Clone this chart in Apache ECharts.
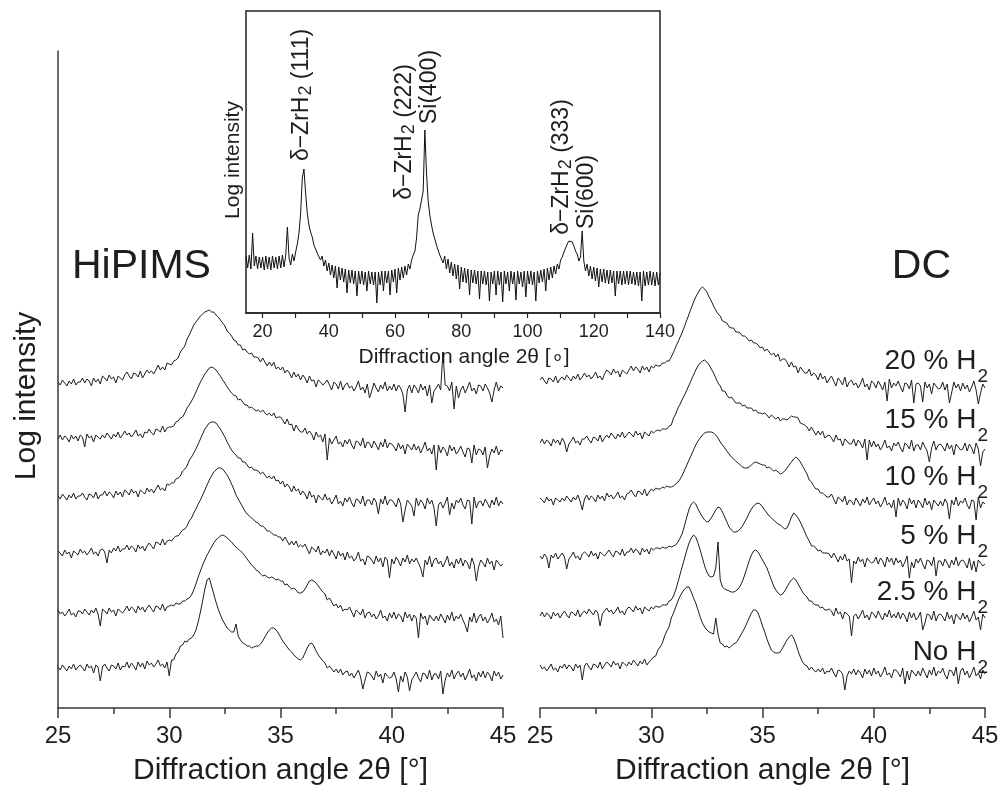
<!DOCTYPE html>
<html>
<head>
<meta charset="utf-8">
<script src="https://cdn.jsdelivr.net/npm/echarts@6/dist/echarts.min.js"></script>
<style>
html, body { margin: 0; background: #fff; }
#chart { width: 1005px; height: 798px; }
</style>
</head>
<body>
<div id="chart"></div>
<script>
// scans sampled every 0.1 deg from 25 to 45 deg; log intensity in arbitrary units, each curve already offset
var angleStart = 25, angleStep = 0.1;
var mainTickLabels = [25, 30, 35, 40, 45];

// HiPIMS, one row per degree
var hipims20 = [
  326,323,328,325,322,327,324,329,323,326, 326,330,325,329,327,322,330,326,329,324,
  332,330,327,333,329,331,325,332,330,328, 333,336,332,329,335,334,331,337,330,334,
  338,335,337,334,338,343,338,341,338,345, 344,343,347,348,350,356,359,362,369,373,
  378,383,386,389,392,394,396,397,398,396, 396,393,391,388,385,382,377,375,372,368,
  367,363,363,358,359,356,354,355,351,351, 350,346,350,346,342,346,342,346,339,341,
  338,341,335,338,335,330,336,331,334,328, 333,330,325,332,327,328,321,328,326,323,
  325,328,323,318,326,324,319,327,318,323, 325,320,322,317,321,327,318,321,315,324,
  310,317,325,320,316,323,319,326,317,322, 318,324,317,323,320,314,296,318,323,315,
  323,320,315,324,318,322,312,323,305,317, 320,324,318,356,323,322,317,326,299,322,
  310,318,322,315,320,326,317,320,314,323, 322,317,324,320,315,306,318,326,317,322, 320];
var hipims15 = [
  269,273,268,272,270,266,273,269,272,267, 273,271,261,274,270,272,266,273,271,269,
  273,270,275,272,269,274,271,276,270,273, 277,273,275,271,274,278,272,274,270,276,
  275,279,275,273,279,278,276,282,276,280, 281,281,282,286,287,290,291,295,300,303,
  307,311,316,321,326,330,334,337,340,341, 340,338,335,332,328,325,321,318,315,313,
  312,308,309,306,303,303,300,301,299,297, 298,296,298,295,293,295,292,295,290,291,
  291,288,284,289,283,284,277,283,279,276, 276,280,274,277,274,268,276,271,273,266,
  274,248,270,264,268,272,264,266,261,268, 264,269,263,259,267,266,262,270,260,266,
  265,260,267,263,258,266,261,269,260,265, 264,261,257,265,259,263,254,264,261,258,
  264,258,262,255,260,266,257,260,254,263, 238,263,255,261,258,252,263,257,261,254,
  257,262,256,251,260,259,245,263,253,259, 258,253,261,240,252,259,255,262,253,258, 257];
var hipims10 = [
  212,209,214,211,208,213,210,215,209,212, 212,215,211,208,214,213,210,216,209,213,
  213,217,212,216,214,210,217,213,216,211, 218,216,213,219,215,217,211,218,216,214,
  220,216,219,215,219,223,218,220,217,224, 223,225,225,229,230,232,237,239,242,248,
  251,255,259,264,269,274,279,282,285,286, 286,285,282,279,275,271,266,262,258,255,
  253,250,250,246,246,243,240,241,238,238, 237,234,236,233,230,232,229,232,227,228,
  224,227,221,224,221,216,222,217,219,213, 217,214,209,217,211,213,205,213,210,208,
  214,208,210,204,208,213,204,207,202,210, 206,211,205,201,209,208,204,212,202,208,
  208,203,210,206,194,209,204,212,203,208, 208,205,201,210,204,186,198,208,205,202,
  192,210,202,208,205,199,210,204,208,200, 182,203,206,200,205,211,193,205,199,208,
  205,210,203,199,208,207,184,211,200,206, 207,202,209,205,200,208,203,211,202,207, 204];
var hipims5 = [
  157,155,152,158,154,156,150,157,155,153, 159,155,157,153,156,160,154,156,152,158,
  159,156,145,158,155,160,157,162,156,159, 159,163,158,162,160,156,163,159,162,157,
  162,165,162,159,166,165,163,169,163,167, 168,167,170,172,172,175,178,179,182,187,
  190,195,199,204,208,213,218,223,228,232, 236,238,240,240,239,236,233,229,224,219,
  213,209,205,201,197,194,192,190,188,186, 185,182,182,180,177,177,175,173,173,171,
  171,167,171,167,163,167,163,167,161,163, 161,164,159,154,161,159,156,162,153,157,
  155,159,152,158,154,149,157,152,155,148, 156,150,152,147,150,156,147,149,143,152,
  151,148,144,152,146,150,141,151,148,130, 149,144,151,147,142,150,146,153,144,149,
  146,150,145,140,131,148,143,152,141,148, 150,144,147,141,146,152,142,146,140,149,
  144,150,142,148,145,139,150,144,127,141, 148,145,141,150,144,147,138,148,145,142, 144];
var hipims2_5 = [
  98,94,96,92,95,99,93,95,91,97, 97,94,99,96,93,98,95,100,94,82,
  99,97,94,100,96,98,92,99,97,95, 98,102,97,101,99,95,102,98,101,96,
  100,103,99,96,102,101,98,104,97,101, 102,103,102,105,104,104,107,107,109,110,
  113,118,124,131,137,143,148,153,157,161, 165,168,170,172,173,172,170,168,166,163,
  161,159,157,155,152,149,146,143,141,138, 137,134,132,133,131,130,131,130,128,129,
  127,127,123,124,121,119,120,118,115,115, 116,119,123,127,128,127,125,122,119,116,
  114,108,110,106,102,104,100,103,97,99, 98,101,96,91,98,96,93,99,90,95,
  96,91,94,89,92,98,90,92,87,95, 90,96,89,94,92,86,96,90,94,87,
  93,90,70,95,89,92,83,93,90,87, 92,87,94,90,85,93,88,96,87,92,
  89,94,88,83,76,91,86,95,85,91, 94,87,91,85,89,95,86,89,83,92, 70];
var hipimsNo = [
  41,38,43,40,37,42,39,44,38,41, 43,40,37,44,40,42,35,43,41,27,
  41,44,40,37,43,42,39,45,38,42, 41,46,40,45,42,38,46,41,45,39,
  47,43,45,41,44,48,42,44,40,46, 32,48,48,54,56,62,63,67,66,69,
  70,73,78,86,96,107,119,128,130,122, 114,106,99,93,88,84,80,78,76,76,
  84,72,68,65,64,62,62,60,61,62, 62,64,67,71,75,78,80,80,78,75,
  71,67,64,61,58,56,53,51,49,48, 50,55,60,64,65,62,57,53,50,47,
  45,40,42,39,36,39,35,39,33,36, 37,32,35,30,34,38,31,19,28,36,
  35,32,28,37,31,34,25,35,32,30, 31,36,29,16,32,26,36,31,17,28,
  32,36,30,26,35,34,29,38,28,34, 34,29,37,14,28,35,31,38,29,34,
  37,31,35,28,33,39,30,33,27,36, 31,37,30,36,33,27,37,32,36,29, 33];

// DC
var dc20 = [
  328,331,327,324,330,329,326,332,325,329, 331,328,333,330,327,332,329,334,328,331,
  335,331,333,329,332,336,330,332,328,334, 338,336,333,339,335,337,331,338,336,334,
  338,342,337,341,339,335,342,338,341,336, 342,340,343,342,342,345,345,347,347,351,
  356,361,366,371,376,382,388,394,400,406, 411,415,419,421,419,416,411,407,402,398,
  394,392,387,386,385,381,380,380,376,376, 375,372,372,370,367,368,365,365,363,360,
  361,357,359,356,353,355,351,354,347,349, 349,346,341,346,341,342,335,341,338,335,
  335,339,332,335,333,328,335,329,332,325, 329,332,327,322,330,327,323,331,321,326,
  328,323,325,320,324,330,321,324,318,327, 325,320,327,323,318,326,307,329,320,325,
  322,327,321,316,325,324,319,328,305,324, 325,322,306,326,320,324,314,325,322,319,
  320,326,318,324,305,315,326,320,324,317, 325,319,323,316,321,327,318,304,315,324, 320];
var dc15 = [
  265,269,264,268,266,262,269,265,268,263, 270,266,256,264,267,271,265,267,263,269,
  269,272,268,265,271,270,267,273,266,270, 273,270,275,272,269,274,271,276,270,273,
  276,274,271,277,273,275,269,276,274,272, 277,275,277,278,277,279,279,279,282,283,
  290,294,300,304,309,313,318,323,328,333, 338,342,345,347,348,346,343,339,335,330,
  325,322,317,317,313,310,311,308,305,305, 305,302,303,300,300,300,297,298,295,295,
  294,295,293,290,293,291,289,291,287,289, 289,288,290,292,291,291,290,285,284,283,
  281,277,281,277,273,277,273,277,270,272, 273,270,266,273,268,269,262,269,267,264,
  264,269,262,268,265,260,269,248,268,261, 267,261,264,258,262,268,260,262,257,265,
  262,266,260,256,265,263,259,268,257,263, 263,258,266,261,257,246,260,267,258,263,
  264,261,257,265,259,263,253,264,261,258, 259,265,257,264,260,254,265,259,242,256, 259];
var dc10 = [
  210,208,205,211,207,209,203,210,208,206, 210,207,212,209,206,211,208,213,207,198,
  209,213,208,212,210,206,213,209,212,207, 215,211,213,209,212,216,210,212,208,214,
  215,218,214,211,217,216,213,219,212,216, 219,217,220,219,219,221,220,222,221,221,
  222,224,226,229,233,238,243,248,253,258, 263,267,270,273,275,276,276,276,275,273,
  270,266,263,260,257,254,251,249,247,245, 243,241,240,240,241,243,245,246,245,244,
  243,243,240,241,239,237,238,236,234,235, 237,240,243,246,249,251,249,246,242,238,
  234,228,226,222,219,219,215,215,213,211, 211,214,209,204,211,209,206,212,203,208,
  207,203,210,206,202,209,205,211,203,207, 210,204,207,201,205,211,203,205,200,208,
  191,210,202,208,205,199,210,204,208,200, 208,205,200,210,203,207,198,208,205,202,
  207,202,209,205,189,208,203,211,202,207, 205,210,203,199,208,207,188,211,200,206, 204];
var dc5 = [
  152,149,154,151,140,153,150,155,149,152, 155,151,139,149,152,156,150,152,148,154,
  156,154,151,157,152,155,149,156,154,152, 155,158,154,151,157,156,153,159,152,156,
  156,160,155,159,157,153,160,156,159,154, 160,158,160,160,159,161,160,160,162,161,
  162,163,166,170,175,183,191,199,204,206, 204,199,195,191,188,186,187,190,194,198,
  201,200,196,191,186,181,178,176,176,177, 179,182,186,190,195,199,202,204,205,204,
  201,198,195,192,190,188,186,184,183,181, 179,180,185,191,195,193,190,186,181,176,
  171,167,162,162,160,157,158,155,155,155, 154,150,155,151,146,152,148,154,147,149,
  125,147,144,151,146,149,141,150,147,145, 146,151,144,150,147,141,151,146,150,143,
  150,145,148,141,146,152,130,146,140,149, 145,150,144,139,148,147,142,151,132,147,
  147,142,149,145,140,148,143,151,142,147, 148,145,140,150,138,147,136,148,145,142, 144];
var dc2_5 = [
  92,96,91,95,93,89,96,92,95,90, 94,97,93,90,96,95,92,98,91,95,
  97,94,99,96,93,98,95,82,94,97, 100,96,98,94,97,101,95,97,93,99,
  101,99,96,102,98,100,94,101,99,97, 101,99,102,101,101,103,103,103,107,108,
  112,118,126,134,142,150,158,165,170,173, 171,165,158,150,142,136,132,131,132,140,
  166,128,121,119,118,117,116,116,117,119, 122,127,133,140,147,153,157,158,156,152,
  148,144,140,134,128,122,118,115,113,114, 117,121,125,128,130,128,124,120,116,113,
  111,107,107,104,103,103,100,101,98,98, 99,97,92,100,94,96,89,96,94,92,
  72,92,94,89,93,98,90,93,88,96, 94,90,97,92,88,95,91,98,90,94,
  90,96,89,95,92,86,96,90,95,88, 91,96,78,85,94,93,88,97,87,93,
  94,91,87,96,89,93,84,94,91,88, 95,89,93,86,91,97,88,91,78,94, 90];
var dcNo = [
  43,39,41,37,40,44,38,40,36,42, 40,44,39,43,41,37,44,40,43,28,
  42,45,41,38,44,43,40,46,39,43, 46,44,41,47,43,45,39,46,44,42,
  46,43,48,45,42,47,44,49,43,46, 48,51,52,58,61,65,72,77,81,90,
  95,101,107,112,116,119,121,121,116,110, 105,98,91,85,81,78,76,75,74,90,
  74,65,64,61,62,60,62,64,65,68, 72,76,80,85,90,95,98,98,95,89,
  82,76,69,63,58,56,55,55,56,60, 64,68,71,73,70,64,57,51,46,43,
  42,38,41,38,36,39,36,40,34,37, 36,40,35,31,38,37,34,18,32,37,
  34,39,33,38,35,30,39,34,38,32, 40,34,37,31,35,41,33,35,30,38,
  38,35,31,40,24,37,28,38,35,32, 37,32,40,35,30,38,33,41,32,37,
  35,40,33,29,38,37,32,41,24,37, 40,33,37,30,35,41,32,35,29,38, 34];

var h2Labels = ['20 % H', '15 % H', '10 % H', '5 % H', '2.5 % H', 'No H'];

// inset: wide scan 15-140 deg, every 0.5 deg
var insetStart = 15, insetStep = 0.5;
var insetTicks = [20, 30, 40, 50, 60, 70, 80, 90, 100, 110, 120, 130, 140];
var insetTickLabels = [20, 40, 60, 80, 100, 120, 140];
var insetScan = [
  57,45,58,44,80,47,57,44,56,45, 56,43,57,44,56,43,57,45,56,44,
  57,45,58,46,58,86,55,48,59,52, 61,69,80,100,135,144,120,100,88,81,
  76,68,68,60,61,53,57,47,53,42, 50,38,48,35,47,25,46,33,45,31,
  44,20,43,30,43,29,42,17,42,29, 42,28,41,22,42,29,41,28,41,10,
  41,28,42,22,42,30,42,18,43,31, 44,20,45,33,46,35,47,38,49,44,
  53,58,62,75,98,104,106,122,183,140, 112,98,88,80,74,68,66,58,60,50,
  57,44,54,40,51,37,49,34,48,24, 46,31,45,30,44,18,43,30,43,29,
  42,14,42,29,42,28,41,12,41,29, 42,18,42,28,41,11,42,29,41,22,
  42,29,41,13,42,29,41,26,42,16, 42,29,42,28,41,12,42,30,43,31,
  44,22,45,33,46,35,47,39,49,44, 53,56,61,65,69,72,73,71,67,62,
  59,52,56,82,52,42,49,37,47,34, 46,32,45,26,44,31,44,30,43,29,
  43,30,42,17,42,29,42,28,42,29, 42,28,42,29,41,28,41,27,41,12,
  42,27,41,28,42,28,41,27,41,28, 40];
var insetPeaks = [
  { main: 'δ−ZrH', sub: '2', rest: ' (111)' },
  { main: 'δ−ZrH', sub: '2', rest: ' (222)' },
  { main: 'Si(400)', sub: '', rest: '' },
  { main: 'δ−ZrH', sub: '2', rest: ' (333)' },
  { main: 'Si(600)', sub: '', rest: '' }
];

var font = 'Liberation Sans, Arial, Helvetica, sans-serif';
var ink = '#1e1e1e';
var axisGrey = '#3a3a3a';

function scan(values, start, step) {
  return values.map(function (v, i) {
    return [Math.round((start + i * step) * 100) / 100, v];
  });
}

function mainX(gridIndex) {
  return {
    gridIndex: gridIndex,
    type: 'value',
    min: mainTickLabels[0],
    max: mainTickLabels[mainTickLabels.length - 1],
    interval: mainTickLabels[1] - mainTickLabels[0],
    name: 'Diffraction angle 2θ [°]',
    nameLocation: 'middle',
    nameGap: 48,
    nameTextStyle: { fontSize: 30, color: ink, fontFamily: font },
    axisLine: { lineStyle: { color: axisGrey, width: 1.5 } },
    axisTick: { inside: false, length: 10, lineStyle: { color: axisGrey, width: 1.5 } },
    minorTick: { show: true, splitNumber: 2, length: 6, lineStyle: { color: axisGrey, width: 1.5 } },
    axisLabel: { fontSize: 24, color: ink, fontFamily: font, margin: 16 },
    splitLine: { show: false },
    minorSplitLine: { show: false }
  };
}

function mainY(gridIndex, showLine) {
  return {
    gridIndex: gridIndex,
    type: 'value',
    min: 0,
    max: 657,
    axisLine: { show: showLine, lineStyle: { color: axisGrey, width: 1.5 } },
    axisTick: { show: false },
    axisLabel: { show: false },
    splitLine: { show: false }
  };
}

var series = [];
[[hipims20, hipims15, hipims10, hipims5, hipims2_5, hipimsNo],
 [dc20, dc15, dc10, dc5, dc2_5, dcNo]].forEach(function (traces, p) {
  traces.forEach(function (vals) {
    series.push({
      type: 'line',
      xAxisIndex: p,
      yAxisIndex: p,
      data: scan(vals, angleStart, angleStep),
      symbol: 'none',
      silent: true,
      lineStyle: { width: 1, color: ink }
    });
  });
});
series.push({
  type: 'line',
  xAxisIndex: 2,
  yAxisIndex: 2,
  data: scan(insetScan, insetStart, insetStep),
  symbol: 'none',
  silent: true,
  z: 10,
  lineStyle: { width: 1, color: '#111' }
});

function label(text, x, y, size, opts) {
  opts = opts || {};
  return {
    type: 'text',
    x: x,
    y: y,
    rotation: opts.rotation || 0,
    z: 100,
    style: {
      text: text,
      fontSize: size,
      fontFamily: font,
      fill: ink,
      align: opts.align || 'center',
      verticalAlign: 'middle'
    }
  };
}

function subLabel(text, x, y, size, subSize, drop, opts) {
  var g = label(text, x, y, size, opts);
  g.style.rich = {
    m: { fontSize: size, fontFamily: font, fill: ink },
    s: { fontSize: subSize, fontFamily: font, fill: ink, padding: [drop, 0, 0, 1] }
  };
  return g;
}

var graphics = [
  label('Log intensity', 27, 396, 30, { rotation: Math.PI / 2 }),
  label('HiPIMS', 72, 267, 41, { align: 'left' }),
  label('DC', 951, 267, 41, { align: 'right' }),
  label('Log intensity', 233, 160, 21, { rotation: Math.PI / 2 })
];

var h2Y = [361, 420, 477, 536, 592, 652];
h2Labels.forEach(function (t, i) {
  graphics.push(subLabel('{m|' + t + '}{s|2}', 988, h2Y[i], 28, 19, 32, { align: 'right' }));
});

var peakPos = [[302, 95], [405, 132], [430, 87], [562, 167], [587, 192]];
insetPeaks.forEach(function (p, i) {
  var txt = '{m|' + p.main + '}' + (p.sub ? '{s|' + p.sub + '}' : '') + (p.rest ? '{m|' + p.rest + '}' : '');
  graphics.push(subLabel(txt, peakPos[i][0], peakPos[i][1], 23, 18, 8, { rotation: Math.PI / 2 }));
});

var option = {
  backgroundColor: '#ffffff',
  animation: false,
  grid: [
    { left: 58, top: 51, width: 445, height: 657 },
    { left: 540, top: 51, width: 445, height: 657 },
    { left: 246, top: 11, width: 414, height: 302, show: true, borderColor: '#222', borderWidth: 1.5 }
  ],
  xAxis: [
    mainX(0),
    mainX(1),
    {
      gridIndex: 2,
      type: 'value',
      min: insetStart,
      max: 140,
      name: 'Diffraction angle 2θ [∘]',
      nameLocation: 'middle',
      nameGap: 34,
      nameTextStyle: { fontSize: 21, color: ink, fontFamily: font, padding: [0, 0, 0, 22] },
      axisLine: { lineStyle: { color: '#222', width: 1.5 } },
      axisTick: { inside: false, length: 5, customValues: insetTicks, lineStyle: { color: '#222', width: 1.2 } },
      axisLabel: { fontSize: 18, color: ink, fontFamily: font, margin: 10, customValues: insetTickLabels },
      splitLine: { show: false }
    }
  ],
  yAxis: [
    mainY(0, true),
    mainY(1, false),
    { gridIndex: 2, type: 'value', min: 0, max: 302, show: false }
  ],
  series: series,
  graphic: graphics
};

var myChart = echarts.init(document.getElementById('chart'));
myChart.setOption(option);
</script>
</body>
</html>
